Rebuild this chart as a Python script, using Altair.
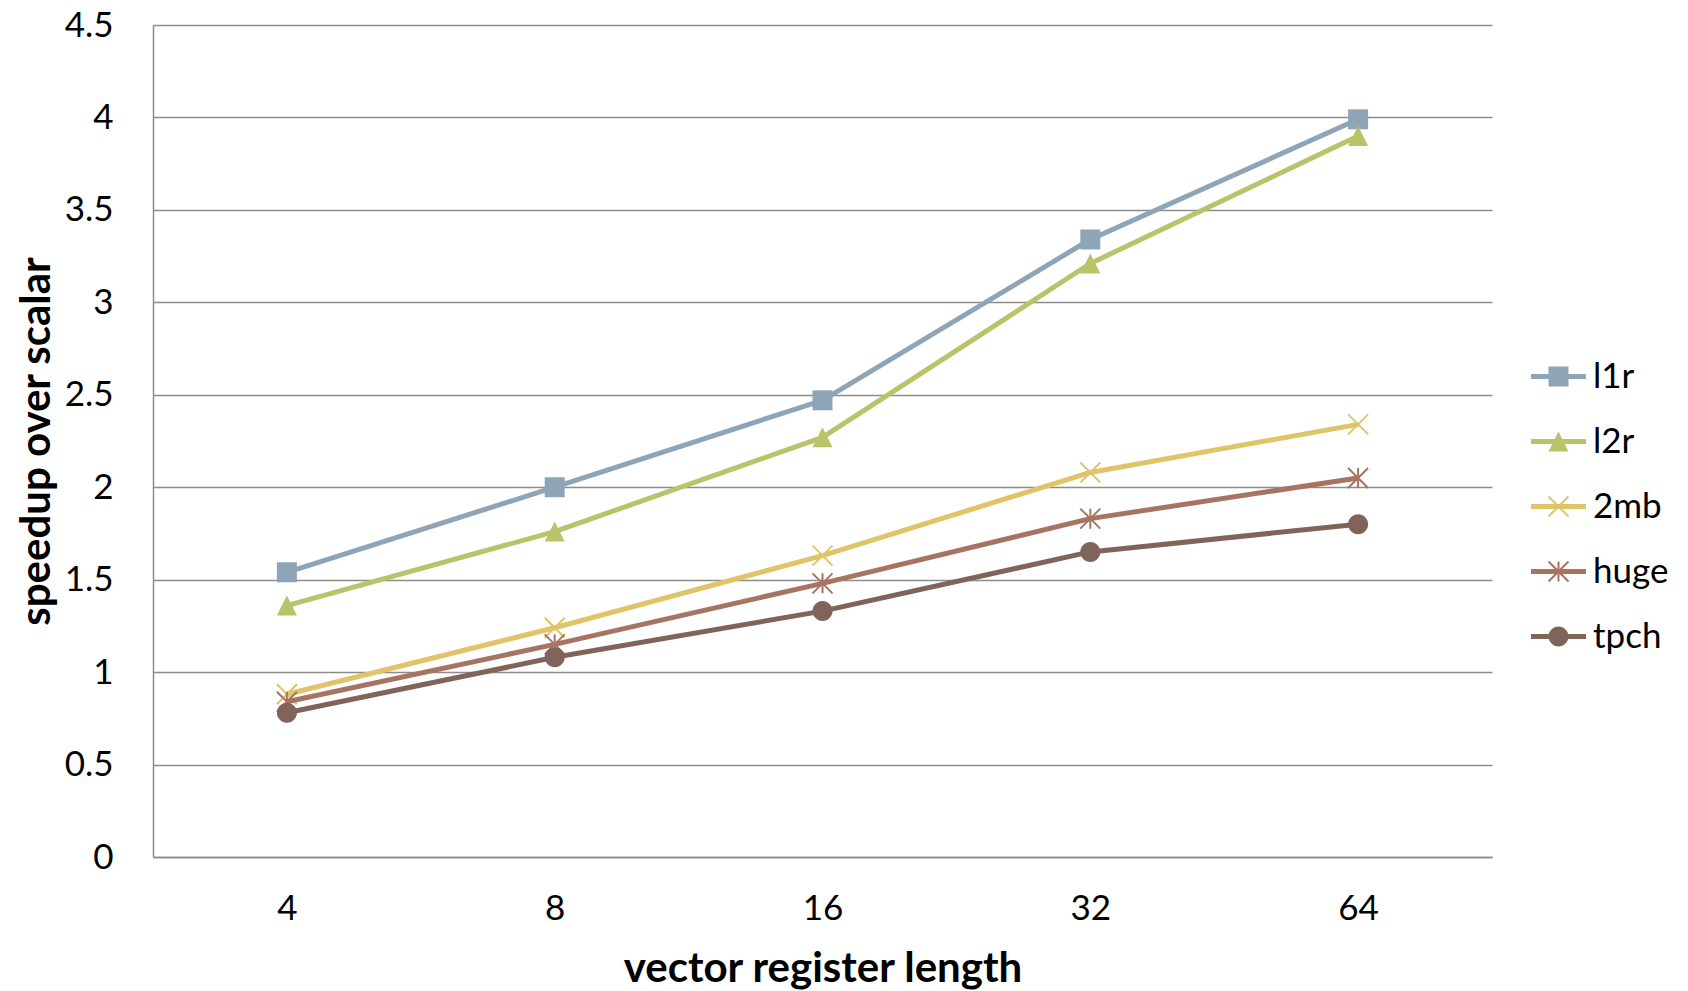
import altair as alt
import pandas as pd

# Speedup of vector code over scalar code, by vector register length
lengths = ["4", "8", "16", "32", "64"]
series = ["l1r", "l2r", "2mb", "huge", "tpch"]
l1r = [1.54, 2.00, 2.47, 3.34, 3.99]
l2r = [1.36, 1.76, 2.27, 3.21, 3.90]
mb2 = [0.88, 1.24, 1.63, 2.08, 2.34]
huge = [0.84, 1.15, 1.48, 1.83, 2.05]
tpch = [0.78, 1.08, 1.33, 1.65, 1.80]
y_ticks = [0, 0.5, 1, 1.5, 2, 2.5, 3, 3.5, 4, 4.5]

colors = ["#8EA5B8", "#BBC36A", "#E0C468", "#A87462", "#80645A"]

values = {"l1r": l1r, "l2r": l2r, "2mb": mb2, "huge": huge, "tpch": tpch}
df = pd.DataFrame(
    [{"series": s, "length": l, "speedup": v}
     for s in series for l, v in zip(lengths, values[s])]
)


def bar(x1, y1, x2, y2, hw):
    """Filled thin quad along a segment, with a consistent winding."""
    dx, dy = x2 - x1, y2 - y1
    n = (dx * dx + dy * dy) ** 0.5
    nx, ny = -dy / n * hw, dx / n * hw
    pts = [(x1 + nx, y1 + ny), (x2 + nx, y2 + ny), (x2 - nx, y2 - ny), (x1 - nx, y1 - ny)]
    area = sum(pts[i][0] * pts[(i + 1) % 4][1] - pts[(i + 1) % 4][0] * pts[i][1] for i in range(4))
    if area < 0:
        pts.reverse()
    return "M" + "L".join(f"{x:.3f},{y:.3f}" for x, y in pts) + "Z"


SQUARE = "M-1,-1L1,-1L1,1L-1,1Z"
TRIANGLE = "M0,-1L1,1L-1,1Z"
CIRCLE = "M1,0A1,1 0 1,1 -1,0A1,1 0 1,1 1,0Z"
X_STROKE = "M-1,-1L1,1M-1,1L1,-1"
STAR_STROKE = "M-1,-1L1,1M-1,1L1,-1M0,-1L0,1"

X_FILL = bar(-1, -1, 1, 1, 0.1) + bar(-1, 1, 1, -1, 0.1)
STAR_FILL = X_FILL + bar(0, -1, 0, 1, 0.1)
STEM = bar(-2.75, 0, 2.75, 0, 0.25)

# legend keys: a short thick line with the marker on it
legend_paths = [STEM + SQUARE, STEM + TRIANGLE, STEM + X_FILL, STEM + STAR_FILL, STEM + CIRCLE]

# plot markers: (shape, filled)
markers = {
    "l1r": (SQUARE, True),
    "l2r": (TRIANGLE, True),
    "2mb": (X_STROKE, False),
    "huge": (STAR_STROKE, False),
    "tpch": (CIRCLE, True),
}

FONT = "Lato"
GRID = "#8c8c8c"

base = alt.Chart(df).encode(
    x=alt.X(
        "length:O",
        sort=lengths,
        scale=alt.Scale(type="point", padding=0.5),
        axis=alt.Axis(
            title="vector register length",
            labelAngle=0,
            labelFont=FONT,
            labelFontSize=35,
            labelColor="black",
            labelBaseline="middle",
            labelPadding=51,
            ticks=False,
            tickSize=0,
            grid=False,
            domainColor=GRID,
            domainWidth=1.5,
            titleFont=FONT,
            titleFontSize=42,
            titleFontWeight="bold",
            titleColor="black",
            titleBaseline="alphabetic",
            titleY=124,
        ),
    ),
    y=alt.Y(
        "speedup:Q",
        scale=alt.Scale(domain=[0, 4.5], nice=False, zero=True),
        axis=alt.Axis(
            title="speedup over scalar",
            values=y_ticks,
            format="~g",
            labelFont=FONT,
            labelFontSize=35,
            labelColor="black",
            labelPadding=40,
            ticks=False,
            tickSize=0,
            grid=True,
            gridColor=GRID,
            gridWidth=1.5,
            domainColor=GRID,
            domainWidth=1.5,
            titleFont=FONT,
            titleFontSize=42,
            titleFontWeight="bold",
            titleColor="black",
            titleAngle=270,
            titleAlign="center",
            titleBaseline="middle",
            titleX=-117,
            titleY=416,
        ),
    ),
)

layers = []
for s, c in zip(series, colors):
    shape, filled = markers[s]
    sub = base.transform_filter(alt.datum.series == s)
    layers.append(sub.mark_line(color=c, strokeWidth=5, strokeJoin="round"))
    if filled:
        layers.append(sub.mark_point(shape=shape, size=400, filled=True, color=c, opacity=1, strokeWidth=0))
    else:
        layers.append(sub.mark_point(shape=shape, size=400, filled=False, color=c, opacity=1, strokeWidth=2))

legend = alt.Legend(
    title=None,
    orient="none",
    legendX=1388,
    legendY=334,
    padding=0,
    labelFont=FONT,
    labelFontSize=35,
    labelColor="black",
    labelOffset=17,
    symbolSize=400,
    symbolStrokeWidth=0,
    symbolOpacity=1,
    rowPadding=29,
)

key = base.transform_filter("false").mark_point(filled=True, opacity=1, size=400).encode(
    color=alt.Color("series:N", scale=alt.Scale(domain=series, range=colors), legend=legend),
    shape=alt.Shape("series:N", scale=alt.Scale(domain=series, range=legend_paths), legend=legend),
)

chart = (
    alt.layer(*layers, key)
    .properties(
        width=1339,
        height=832,
        autosize=alt.AutoSizeParams(type="none"),
        padding={"left": 153, "top": 25, "right": 196, "bottom": 134},
        background="white",
    )
    .configure_view(strokeWidth=0)
)

chart.save("out.html", embed_options={"renderer": "svg", "actions": False})
